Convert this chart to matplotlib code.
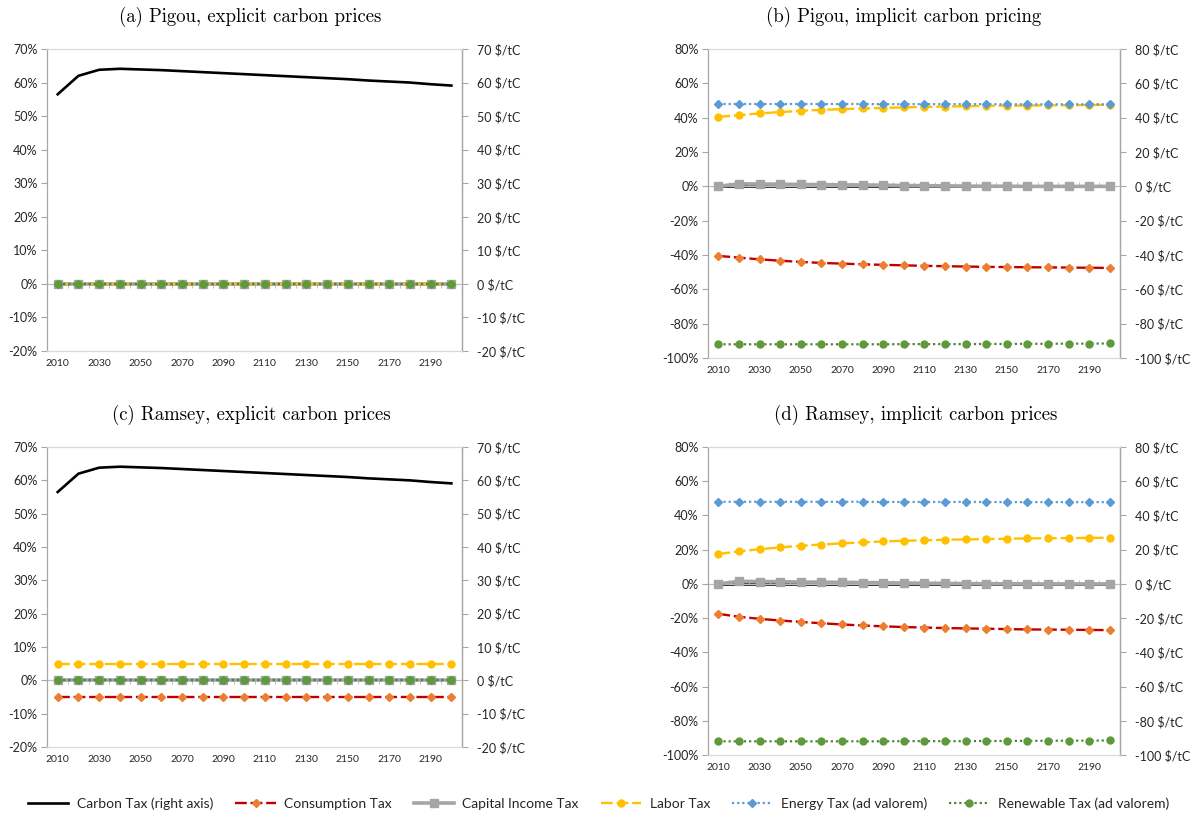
import matplotlib
matplotlib.use("Agg")
import matplotlib.pyplot as plt
from matplotlib.ticker import FuncFormatter
from matplotlib.lines import Line2D

plt.rcParams['font.family'] = ['Lato', 'DejaVu Sans']
plt.rcParams['text.parse_math'] = False

years = list(range(2010, 2201, 10))
year_labels = [str(y) for y in range(2010, 2200, 20)]

# (a) Pigou, explicit carbon prices
carbon_a = [56.5, 62.0, 63.8, 64.1, 63.9, 63.7, 63.4, 63.1, 62.8, 62.5,
            62.2, 61.9, 61.6, 61.3, 61.0, 60.6, 60.3, 60.0, 59.5, 59.1]
zeros = [0.0] * 20

# (b) Pigou, implicit carbon pricing
carbon_b = [0.0] * 20
cons_b = [-40.5, -41.5, -42.5, -43.3, -44.0, -44.6, -45.0, -45.4, -45.7, -46.0,
          -46.3, -46.5, -46.7, -46.9, -47.0, -47.1, -47.2, -47.3, -47.4, -47.5]
capital_b = [0.0, 1.5, 1.4, 1.3, 1.1, 1.0, 0.9, 0.8, 0.7, 0.5,
             0.4, 0.3, 0.2, 0.1, 0.1, 0.0, 0.0, 0.0, 0.0, 0.0]
labor_b = [40.5, 41.5, 42.5, 43.3, 44.0, 44.6, 45.0, 45.4, 45.7, 46.0,
           46.3, 46.5, 46.7, 46.9, 47.0, 47.1, 47.2, 47.3, 47.4, 47.5]
energy_b = [48.0, 48.0, 48.0, 48.0, 48.0, 48.0, 48.0, 48.0, 47.9, 47.9,
            47.9, 47.9, 47.9, 47.9, 47.8, 47.8, 47.8, 47.8, 47.8, 47.8]
renew_b = [-92.0, -92.0, -92.0, -92.0, -92.0, -92.0, -92.0, -92.0, -92.0, -91.9,
           -91.9, -91.9, -91.9, -91.8, -91.8, -91.7, -91.7, -91.6, -91.6, -91.5]

# (c) Ramsey, explicit carbon prices
carbon_c = carbon_a
cons_c = [-5.0] * 20
labor_c = [5.0] * 20

# (d) Ramsey, implicit carbon prices
carbon_d = [0.0] * 20
cons_d = [-17.5, -19.2, -20.4, -21.4, -22.2, -23.0, -23.7, -24.3, -24.8, -25.2,
          -25.5, -25.8, -26.0, -26.2, -26.4, -26.6, -26.7, -26.8, -26.9, -27.0]
capital_d = capital_b
labor_d = [17.5, 19.0, 20.3, 21.3, 22.3, 23.0, 23.7, 24.3, 24.8, 25.2,
           25.5, 25.8, 26.0, 26.2, 26.4, 26.6, 26.7, 26.8, 26.9, 27.0]
energy_d = energy_b
renew_d = renew_b

panels = [
    ("(a) Pigou, explicit carbon prices", carbon_a, zeros, zeros, zeros, zeros, zeros, (-20, 70, 10)),
    ("(b) Pigou, implicit carbon pricing", carbon_b, cons_b, capital_b, labor_b, energy_b, renew_b, (-100, 80, 20)),
    ("(c) Ramsey, explicit carbon prices", carbon_c, cons_c, zeros, labor_c, zeros, zeros, (-20, 70, 10)),
    ("(d) Ramsey, implicit carbon prices", carbon_d, cons_d, capital_d, labor_d, energy_d, renew_d, (-100, 80, 20)),
]

# axes rectangles in figure fraction (left, bottom, width, height)
rects = [
    (0.0396, 0.5693, 0.3468, 0.3706),
    (0.5925, 0.5607, 0.3448, 0.3791),
    (0.0396, 0.0834, 0.3468, 0.3681),
    (0.5925, 0.0736, 0.3448, 0.3779),
]
title_pos = [(0.209, 0.979), (0.756, 0.979), (0.210, 0.491), (0.766, 0.491)]

styles = {
    'carbon': dict(color='black', lw=1.9, ls='-'),
    'cons': dict(color='#C00000', lw=1.7, ls=(0, (5, 1.6)), marker='D', ms=3.6,
                 mfc='#ED7D31', mec='#ED7D31'),
    'capital': dict(color='#A5A5A5', lw=2.6, ls='-', marker='s', ms=5.2,
                    mfc='#A5A5A5', mec='#A5A5A5'),
    'labor': dict(color='#FFC000', lw=1.7, ls=(0, (5, 1.6)), marker='o', ms=5.0,
                  mfc='#FFC000', mec='#FFC000'),
    'energy': dict(color='#5B9BD5', lw=1.6, ls=(0, (1, 1.3)), marker='D', ms=3.8,
                   mfc='#5B9BD5', mec='#5B9BD5'),
    'renew': dict(color='#548235', lw=1.6, ls=(0, (1, 1.3)), marker='o', ms=5.0,
                  mfc='#5E9A3A', mec='#5E9A3A'),
}

axis_gray = '#A6A6A6'
frame_gray = '#D9D9D9'

fig = plt.figure(figsize=(11.95, 8.15), dpi=100)

for (title, carbon, cons, capital, labor, energy, renew, (lo, hi, step)), rect, tpos in zip(panels, rects, title_pos):
    ax = fig.add_axes(rect)
    ax.plot(years, cons, **styles['cons'], zorder=3)
    ax.plot(years, capital, **styles['capital'], zorder=3)
    ax.plot(years, labor, **styles['labor'], zorder=3)
    ax.plot(years, energy, **styles['energy'], zorder=3)
    ax.plot(years, renew, **styles['renew'], zorder=3)
    ax.set_xlim(2005, 2205)
    ax.set_ylim(lo, hi)
    ax.set_yticks(range(lo, hi + 1, step))
    ax.yaxis.set_major_formatter(FuncFormatter(lambda v, p: f"{v:.0f}%"))
    ax.set_xticks([int(s) for s in year_labels])
    ax.set_xticklabels(year_labels)
    ax.tick_params(axis='x', length=0, labelsize=7.5, pad=6, labelcolor='#262626')
    ax.tick_params(axis='y', length=4, width=0.8, color=axis_gray, labelsize=9, pad=3,
                   labelcolor='#262626')
    ax.spines['left'].set_color(axis_gray)
    ax.spines['top'].set_color(frame_gray)
    ax.spines['bottom'].set_color(frame_gray)
    ax.spines['right'].set_color(axis_gray)
    for s in ax.spines.values():
        s.set_linewidth(0.9)

    # horizontal category axis crossing at 0
    sec = ax.secondary_xaxis((0 - lo) / (hi - lo))
    sec.set_xticks(range(2015, 2200, 10))
    sec.tick_params(length=3, width=0.7, color='#BFBFBF', labelbottom=False, labeltop=False)
    sec.spines['bottom'].set_color('#BFBFBF')
    sec.spines['top'].set_color('#BFBFBF')
    for s in sec.spines.values():
        s.set_linewidth(0.9)

    # carbon tax on the right axis, drawn behind the percentage series
    ax2 = ax.twinx()
    ax2.set_zorder(ax.get_zorder() - 1)
    ax.patch.set_visible(False)
    ax2.plot(years, carbon, **styles['carbon'], zorder=2)
    ax2.set_ylim(lo, hi)
    ax2.set_yticks(range(lo, hi + 1, step))
    ax2.yaxis.set_major_formatter(FuncFormatter(lambda v, p: f"{v:.0f} $/tC"))
    ax2.tick_params(axis='y', length=4, width=0.8, color=axis_gray, labelsize=9, pad=7,
                    labelcolor='#262626')
    ax2.spines['right'].set_color(axis_gray)
    ax2.spines['left'].set_visible(False)
    ax2.spines['top'].set_visible(False)
    ax2.spines['bottom'].set_visible(False)
    ax2.spines['right'].set_linewidth(0.9)

    fig.text(tpos[0], tpos[1], title, ha='center', va='center', fontsize=13.5,
             family='cmr10')

handles = [
    Line2D([], [], **styles['carbon']),
    Line2D([], [], **styles['cons']),
    Line2D([], [], **styles['capital']),
    Line2D([], [], **styles['labor']),
    Line2D([], [], **styles['energy']),
    Line2D([], [], **styles['renew']),
]
labels = ["Carbon Tax (right axis)", "Consumption Tax", "Capital Income Tax",
          "Labor Tax", "Energy Tax (ad valorem)", "Renewable Tax (ad valorem)"]
fig.legend(handles, labels, loc='center', bbox_to_anchor=(0.501, 0.0135), ncol=6,
           frameon=False, fontsize=10, handlelength=2.9, columnspacing=1.6,
           handletextpad=0.6, labelcolor='#262626')

fig.savefig("out.png", dpi=100)
